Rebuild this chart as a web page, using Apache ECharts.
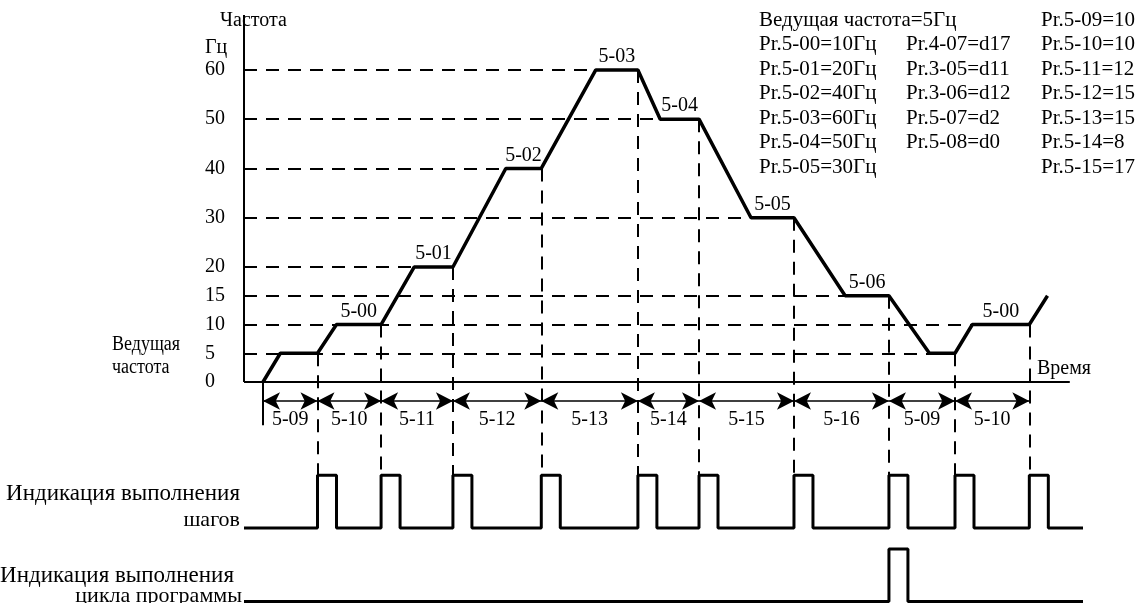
<!DOCTYPE html>
<html>
<head>
<meta charset="utf-8">
<script src="https://cdn.jsdelivr.net/npm/echarts@6/dist/echarts.min.js"></script>
<style>
  html, body { margin: 0; padding: 0; background: #fff; }
  #chart { width: 1139px; height: 603px; }
</style>
</head>
<body>
<div id="chart"></div>
<script>
// Frequency levels marked on the vertical axis, Hz
const freqTicks = [0, 5, 10, 15, 20, 30, 40, 50, 60];

// Multi-step speed program: every flat step with its parameter, frequency and start/end time
const stepLabels = ['', '5-00', '5-01', '5-02', '5-03', '5-04', '5-05', '5-06', '', '5-00'];
const stepFreq   = [5, 10, 20, 40, 60, 50, 30, 15, 5, 10];
const stepStart  = [4.4, 11.2, 20.6, 31.7, 42.6, 50.4, 61.4, 72.8, 83.0, 88.2];
const stepEnd    = [8.9, 16.6, 25.3, 36.0, 47.7, 55.1, 66.6, 78.1, 86.1, 95.1];
const runStart   = [2.3, 0];    // run command (time, Hz)
const runTail    = [97.3, 15];  // next ramp, continuing past the diagram

// Duration parameters of the intervals between step changes
const intervalLabels = ['5-09', '5-10', '5-11', '5-12', '5-13', '5-14', '5-15', '5-16', '5-09', '5-10'];

// Output signals
const cyclePulseSteps = [7];    // step ends where the "cycle complete" pulse is issued
const pulseWidth = 2.3;

// Parameter listing, by column
const paramCols = [
  ['Ведущая частота=5Гц', 'Pr.5-00=10Гц', 'Pr.5-01=20Гц', 'Pr.5-02=40Гц', 'Pr.5-03=60Гц', 'Pr.5-04=50Гц', 'Pr.5-05=30Гц'],
  ['', 'Pr.4-07=d17', 'Pr.3-05=d11', 'Pr.3-06=d12', 'Pr.5-07=d2', 'Pr.5-08=d0', ''],
  ['Pr.5-09=10', 'Pr.5-10=10', 'Pr.5-11=12', 'Pr.5-12=15', 'Pr.5-13=15', 'Pr.5-14=8', 'Pr.5-15=17']
];

// ---- scale helpers -------------------------------------------------------
// The 20..60 Hz band of the frequency axis is drawn compressed.
const UPPER = 0.857;
const toU = f => (f <= 20 ? f : 20 + (f - 20) * UPPER);
const fromU = u => (u <= 20 ? u : 20 + (u - 20) / UPPER);

// Vertical extent of the drawing area and the lanes below the frequency plot
const U_MAX = 63.83;
const U_MIN = -38.43;
const ARROW_Y = -3.3;
const LABEL_Y = -6.6;
const START_TICK_Y = -7.5;
const P1 = { base: -25.4, top: -16.2 };
const P2 = { base: -38.17, top: -29.04 };
const T_MAX = 101.6;
const T_AXIS_END = 100;

const FONT = 'Liberation Serif';
const INK = '#000';
const DASH = [13, 9];

// ---- derived geometry ----------------------------------------------------
const curve = [[runStart[0], toU(runStart[1])]];
stepFreq.forEach((f, i) => {
  curve.push([stepStart[i], toU(f)], [stepEnd[i], toU(f)]);
});
curve.push([runTail[0], toU(runTail[1])]);

const guides = [];
freqTicks.forEach(f => {
  if (f === 0) return;
  let last = -1;
  stepFreq.forEach((sf, i) => { if (sf === f) last = i; });
  if (last >= 0) guides.push({ coords: [[0, toU(f)], [stepStart[last], toU(f)]] });
});
stepEnd.forEach((t, i) => {
  guides.push({ coords: [[t, toU(stepFreq[i])], [t, P1.top]] });
});

const bounds = [runStart[0]].concat(stepEnd);
const intervalPts = intervalLabels.map((name, i) => ({
  value: [(bounds[i] + bounds[i + 1]) / 2, LABEL_Y], name
}));
const arrows = intervalLabels.map((_, i) => [
  { coord: [bounds[i], ARROW_Y] }, { coord: [bounds[i + 1], ARROW_Y] }
]);

const stepPts = [];
stepLabels.forEach((name, i) => {
  if (name) stepPts.push({ value: [(stepStart[i] + stepEnd[i]) / 2, toU(stepFreq[i])], name });
});

function pulseTrain(times, lane) {
  const d = [[0, lane.base]];
  times.forEach(t => {
    d.push([t, lane.base], [t, lane.top], [t + pulseWidth, lane.top], [t + pulseWidth, lane.base]);
  });
  d.push([T_MAX, lane.base]);
  return d;
}

// ---- text blocks ---------------------------------------------------------
function txt(text, x, y, align, size, squeeze) {
  return {
    type: 'text', x, y, silent: true, scaleX: squeeze || 1,
    style: { text, fill: INK, font: (size || 20) + 'px "' + FONT + '"', align: align || 'left', verticalAlign: 'middle' }
  };
}
const texts = [
  txt('Частота', 220, 21),
  txt('Гц', 205, 48),
  txt('Ведущая', 112, 345, 'left', 20, 0.9),
  txt('частота', 112, 368, 'left', 20, 0.9),
  txt('Время', 1037, 369),
  txt('Индикация выполнения', 240, 494, 'right', 23),
  txt('шагов', 240, 520, 'right', 22),
  txt('Индикация выполнения', 234, 576, 'right', 23),
  txt('цикла программы', 242, 596, 'right', 22)
];
const colX = [759, 906, 1041];
paramCols.forEach((col, c) => {
  col.forEach((s, r) => {
    if (s) texts.push(txt(s, colX[c], 20 + 24.5 * r, 'left', 21));
  });
});

const labelFont = { color: INK, fontFamily: FONT, fontSize: 20, opacity: 1, textBorderWidth: 0 };

// ---- chart ---------------------------------------------------------------
const chart = echarts.init(document.getElementById('chart'));
chart.setOption({
  animation: false,
  backgroundColor: '#fff',
  grid: { left: 244, right: 56, top: 15, bottom: 0 },
  xAxis: { type: 'value', min: 0, max: T_MAX, show: false },
  yAxis: {
    type: 'value', min: U_MIN, max: U_MAX,
    axisLine: { show: false }, axisTick: { show: false }, splitLine: { show: false },
    axisLabel: {
      customValues: freqTicks.map(toU),
      formatter: v => String(Math.round(fromU(v))),
      align: 'left', margin: 39, color: INK, fontFamily: FONT, fontSize: 20
    }
  },
  graphic: texts,
  series: [
    {
      name: 'guides', type: 'lines', coordinateSystem: 'cartesian2d', silent: true,
      lineStyle: { color: INK, width: 2, type: DASH, opacity: 1 },
      data: guides, z: 1
    },
    {
      name: 'axes', type: 'lines', coordinateSystem: 'cartesian2d', silent: true,
      lineStyle: { color: INK, width: 2, type: 'solid', opacity: 1 },
      data: [
        { coords: [[0, 0], [T_AXIS_END, 0]] },
        { coords: [[0, 0], [0, U_MAX]] },
        { coords: [[runStart[0], 0], [runStart[0], START_TICK_Y]] }
      ], z: 2
    },
    {
      name: 'frequency', type: 'line', data: curve, symbol: 'none', silent: true,
      lineStyle: { color: INK, width: 3.5 }, z: 5
    },
    {
      name: 'steps', type: 'scatter', data: stepPts, symbolSize: 0, silent: true,
      itemStyle: { opacity: 1, color: INK },
      label: Object.assign({ show: true, position: 'top', distance: 3, formatter: '{b}' }, labelFont)
    },
    {
      name: 'intervals', type: 'scatter', data: intervalPts, symbolSize: 0, silent: true,
      itemStyle: { opacity: 1, color: INK },
      label: Object.assign({ show: true, position: 'inside', formatter: '{b}' }, labelFont),
      markLine: {
        silent: true, symbol: ['arrow', 'arrow'], symbolSize: [13, 17],
        lineStyle: { color: INK, width: 1.5, type: 'solid', opacity: 1 },
        itemStyle: { color: INK },
        label: { show: false }, data: arrows
      }
    },
    {
      name: 'step pulses', type: 'line', data: pulseTrain(stepEnd, P1), symbol: 'none', silent: true,
      lineStyle: { color: INK, width: 3 }
    },
    {
      name: 'cycle pulse', type: 'line', data: pulseTrain(cyclePulseSteps.map(i => stepEnd[i]), P2), symbol: 'none', silent: true,
      lineStyle: { color: INK, width: 3 }
    }
  ]
});
</script>
</body>
</html>
